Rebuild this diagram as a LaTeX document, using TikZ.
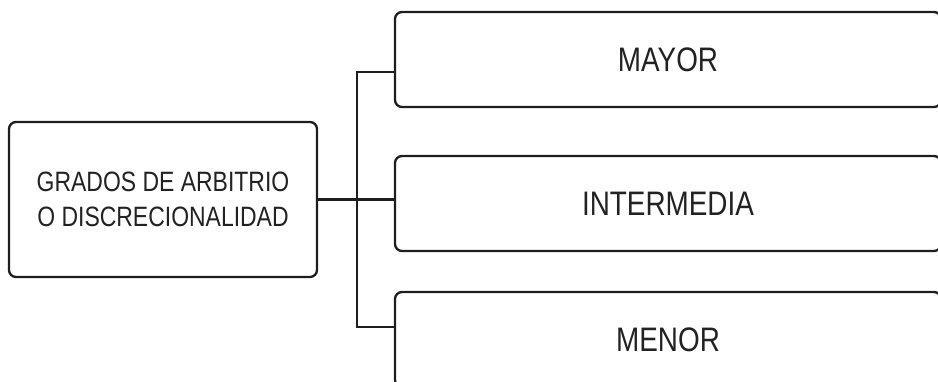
\documentclass[tikz,border=0pt]{standalone}
\usepackage{fontspec}
\setmainfont{Liberation Sans}[FakeStretch=0.82]
\definecolor{ink}{HTML}{1E1E1E}
\definecolor{txt}{HTML}{222222}
\begin{document}
\begin{tikzpicture}[x=1pt,y=-1pt,
  box/.style={draw=ink, line width=2.3pt, rounded corners=7pt, rectangle,
    inner sep=0pt, text=txt},
  rootbox/.style={box, minimum width=308pt, minimum height=155pt,
    align=center, font=\fontsize{28}{35}\selectfont},
  leafbox/.style={box, minimum width=546pt, minimum height=95pt,
    font=\fontsize{34}{40}\selectfont},
  wire/.style={draw=ink, line width=2.3pt}]
  \useasboundingbox (0,0) rectangle (938,382);
  \clip (0,0) rectangle (938,382);

  % root of the classification
  \node[rootbox] (root) at (163,199.5) {GRADOS DE ARBITRIO\\O DISCRECIONALIDAD};

  % the three degrees
  \node[leafbox] (mayor) at (668,59.5)  {MAYOR};
  \node[leafbox] (inter) at (668,203.5) {INTERMEDIA};
  \node[leafbox] (menor) at (668,339.5) {MENOR};

  % bracket joints on the trunk
  \coordinate (jt) at (357,72);
  \coordinate (jb) at (357,327);

  \draw[wire] (root.east) -- (root.east -| inter.west);
  \draw[wire] (mayor.west |- jt) -- (jt) -- (jb) -- (menor.west |- jb);
\end{tikzpicture}
\end{document}
